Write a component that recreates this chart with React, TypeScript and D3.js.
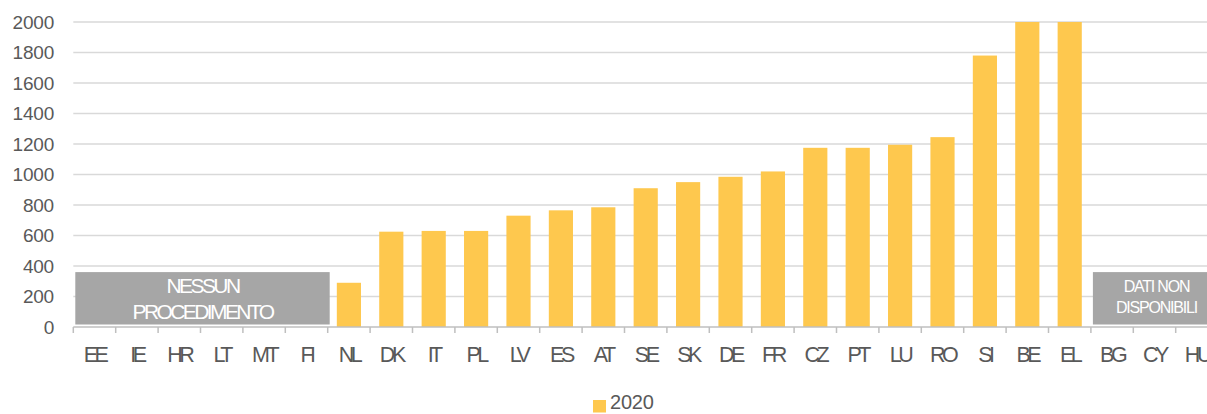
import React, { useRef, useEffect } from "react";
import * as d3 from "d3";

const categories = ["EE", "IE", "HR", "LT", "MT", "FI", "NL", "DK", "IT", "PL", "LV", "ES", "AT", "SE", "SK", "DE", "FR", "CZ", "PT", "LU", "RO", "SI", "BE", "EL", "BG", "CY", "HU"];
const values2020 = [null, null, null, null, null, null, 290, 625, 630, 630, 730, 765, 785, 910, 950, 985, 1020, 1175, 1175, 1195, 1245, 1780, 2000, 2000, null, null, null];
const yTicks = [0, 200, 400, 600, 800, 1000, 1200, 1400, 1600, 1800, 2000];
const noProcedure = ["EE", "IE", "HR", "LT", "MT", "FI"];
const notAvailable = ["BG", "CY", "HU"];
const boxLevel = 360;
const seriesName = "2020";

const W = 1207;
const H = 414;
const FONT = "'Liberation Sans', Arial, sans-serif";

export default function App() {
  const ref = useRef<SVGSVGElement>(null);

  useEffect(() => {
    const svg = d3.select(ref.current);
    svg.selectAll("*").remove();

    const x0 = 73.3;
    const step = 42.4;
    const x = d3.scaleBand<string>().domain(categories).range([x0, x0 + step * categories.length]).paddingInner(0.43).paddingOuter(0.215);
    const xs = d3.scaleBand<string>().domain(categories).range([x0, x0 + step * categories.length]).padding(0);
    const y = d3.scaleLinear().domain([0, 2000]).range([327, 22]);

    // gridlines
    svg.append("g")
      .selectAll("line")
      .data(yTicks.filter((d) => d > 0))
      .join("line")
      .attr("x1", x0)
      .attr("x2", W)
      .attr("y1", (d) => y(d))
      .attr("y2", (d) => y(d))
      .attr("stroke", "#d9d9d9")
      .attr("stroke-width", 1.5);

    // y labels
    svg.append("g")
      .selectAll("text")
      .data(yTicks)
      .join("text")
      .attr("x", 54)
      .attr("y", (d) => y(d) + 6.5)
      .attr("text-anchor", "end")
      .attr("font-family", FONT)
      .attr("font-size", 19)
      .attr("letter-spacing", -0.2)
      .attr("fill", "#595959")
      .text((d) => d);

    // bars
    const data = categories.map((c, i) => ({ c, v: values2020[i] })).filter((d) => d.v != null);
    svg.append("g")
      .selectAll("rect")
      .data(data)
      .join("rect")
      .attr("x", (d) => x(d.c)!)
      .attr("width", x.bandwidth())
      .attr("y", (d) => y(d.v as number))
      .attr("height", (d) => y(0) - y(d.v as number))
      .attr("fill", "#fec84e");

    // grey boxes
    const boxes = [
      { cats: noProcedure, lines: ["NESSUN", "PROCEDIMENTO"], size: 21, ls: -2.6, base: [293, 319] },
      { cats: notAvailable, lines: ["DATI NON", "DISPONIBILI"], size: 16, ls: -1.2, base: [292, 312.5] },
    ];
    boxes.forEach((b) => {
      const left = xs(b.cats[0])! + 2;
      const right = xs(b.cats[b.cats.length - 1])! + xs.bandwidth() + 2;
      const g = svg.append("g");
      g.append("rect")
        .attr("x", left)
        .attr("y", y(boxLevel))
        .attr("width", right - left)
        .attr("height", y(0) - 2.5 - y(boxLevel))
        .attr("fill", "#a6a6a6");
      g.selectAll("text")
        .data(b.lines)
        .join("text")
        .attr("x", (left + right) / 2)
        .attr("y", (d, i) => b.base[i])
        .attr("text-anchor", "middle")
        .attr("font-family", FONT)
        .attr("font-size", b.size)
        .attr("letter-spacing", b.ls)
        .attr("fill", "#ffffff")
        .text((d) => d);
    });

    // x axis
    const ax = svg.append("g");
    ax.append("line")
      .attr("x1", x0)
      .attr("x2", W)
      .attr("y1", y(0))
      .attr("y2", y(0))
      .attr("stroke", "#bfbfbf")
      .attr("stroke-width", 1.5);
    ax.selectAll("line.tick")
      .data(categories)
      .join("line")
      .attr("class", "tick")
      .attr("x1", (d) => xs(d)!)
      .attr("x2", (d) => xs(d)!)
      .attr("y1", y(0))
      .attr("y2", y(0) + 6)
      .attr("stroke", "#bfbfbf")
      .attr("stroke-width", 1.5);
    ax.selectAll("text")
      .data(categories)
      .join("text")
      .attr("x", (d) => xs(d)! + xs.bandwidth() / 2)
      .attr("y", 362)
      .attr("text-anchor", "middle")
      .attr("font-family", FONT)
      .attr("font-size", 21.5)
      .attr("letter-spacing", -3.5)
      .attr("fill", "#595959")
      .text((d) => d);

    // legend
    const lg = svg.append("g");
    lg.append("rect").attr("x", 593).attr("y", 400).attr("width", 13).attr("height", 12.5).attr("fill", "#fec84e");
    lg.append("text")
      .attr("x", 610)
      .attr("y", 409)
      .attr("font-family", FONT)
      .attr("font-size", 20)
      .attr("letter-spacing", -0.2)
      .attr("fill", "#595959")
      .text(seriesName);
  }, []);

  return <svg ref={ref} width={W} height={H} style={{ position: "absolute", left: 0, top: 0 }} />;
}
